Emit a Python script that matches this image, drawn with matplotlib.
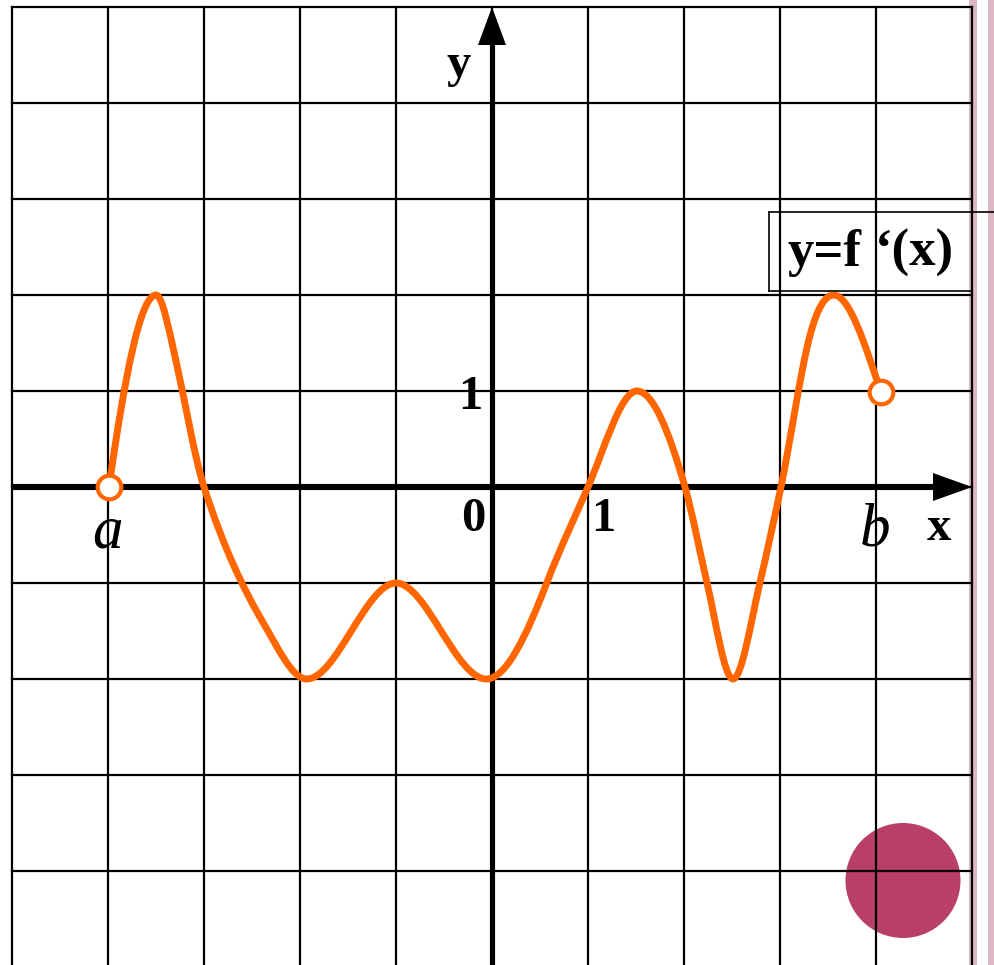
import matplotlib
matplotlib.use("Agg")
import matplotlib.pyplot as plt
from matplotlib.path import Path
from matplotlib.patches import PathPatch, Polygon, Circle

# ---- data ----
knot_x = [-3.99, -3.5, -3.3, -3.0, -2.38, -1.93, -1.0, -0.06, 0.57, 1.0, 1.51,
          2.01, 2.24, 2.51, 2.79, 3.01, 3.31, 3.56, 4.05]
knot_y = [0.0, 2.0, 1.35, 0.0, -1.42, -2.0, -1.0, -2.0, -1.0, 0.0, 1.0,
          0.0, -1.0, -2.0, -1.0, 0.0, 1.57, 2.0, 0.99]
knot_slope = [7.0, 0.0, -4.4, -3.1, -1.7, 0.0, 0.0, 0.0, 2.6, 2.3, 0.0,
              -3.5, -4.3, 0.0, 4.3, 4.8, 3.8, 0.0, -3.0]
endpoints_x = [-3.99, 4.05]
endpoints_y = [0.0, 0.99]
grid_x = [-5, -4, -3, -2, -1, 0, 1, 2, 3, 4, 5]
grid_y = [-4, -3, -2, -1, 0, 1, 2, 3, 4, 5]
label_a, label_b = "a", "b"
func_label_left, func_label_right = "y=f", "\u2018(x)"

ORANGE = "#FF6600"
W, H = 994, 965
UNIT = 96.0
OX, OY = 492.0, 487.0

def X(px):
    return (px - OX) / UNIT

def Y(py):
    return (OY - py) / UNIT

fig = plt.figure(figsize=(W / 100, H / 100), dpi=100)
ax = fig.add_axes([0, 0, 1, 1])
ax.set_xlim(X(0), X(W))
ax.set_ylim(Y(H), Y(0))
ax.axis("off")

# pink strip on the right
ax.axvspan(X(969), X(977), color="#DDB8C4", zorder=0, lw=0)
ax.axvspan(X(988), X(W + 2), color="#DDB8C4", zorder=0, lw=0)

# decorative circle
ax.add_patch(Circle((X(903), Y(880.5)), 57.5 / UNIT, color="#B93E69", zorder=1, lw=0))

# grid
for gx in grid_x:
    ax.plot([gx, gx], [Y(H + 5), grid_y[-1]], color="black", lw=1.6, zorder=2,
            solid_capstyle="projecting")
for gy in grid_y:
    ax.plot([grid_x[0], grid_x[-1]], [gy, gy], color="black", lw=1.6, zorder=2,
            solid_capstyle="projecting")

# axes with arrowheads
ax.plot([grid_x[0], X(935)], [0, 0], color="black", lw=4.4, zorder=3, solid_capstyle="butt")
ax.plot([0, 0], [Y(H + 5), Y(44)], color="black", lw=3.7, zorder=3, solid_capstyle="butt")
ax.add_patch(Polygon([(X(972), 0), (X(933), Y(473)), (X(933), Y(501))],
                     closed=True, color="black", zorder=3, lw=0))
ax.add_patch(Polygon([(0, Y(7)), (X(478), Y(45)), (X(506), Y(45))],
                     closed=True, color="black", zorder=3, lw=0))

# curve as cubic Hermite segments (Bezier)
verts = [(knot_x[0], knot_y[0])]
codes = [Path.MOVETO]
for i in range(len(knot_x) - 1):
    h = knot_x[i + 1] - knot_x[i]
    verts.append((knot_x[i] + h / 3, knot_y[i] + knot_slope[i] * h / 3))
    verts.append((knot_x[i + 1] - h / 3, knot_y[i + 1] - knot_slope[i + 1] * h / 3))
    verts.append((knot_x[i + 1], knot_y[i + 1]))
    codes += [Path.CURVE4] * 3
ax.add_patch(PathPatch(Path(verts, codes), fill=False, edgecolor=ORANGE, lw=5.0,
                       capstyle="round", joinstyle="round", zorder=4))
ax.plot(endpoints_x, endpoints_y, "o", ms=17, mfc="white", mec=ORANGE, mew=3.0,
        zorder=5, ls="none")

serif = ["Liberation Serif", "DejaVu Serif"]
bold = dict(family=serif, fontweight="bold", fontsize=35, color="black", zorder=6)
ax.text(X(459), Y(77), "y", ha="center", va="baseline", **bold)
ax.text(X(939), Y(540), "x", ha="center", va="baseline", **bold)
ax.text(X(470), Y(409), "1", ha="center", va="baseline", **bold)
ax.text(X(473), Y(531), "0", ha="center", va="baseline", **bold)
ax.text(X(603), Y(531), "1", ha="center", va="baseline", **bold)

ital = dict(family=serif, fontstyle="italic", fontsize=44, color="black", zorder=6)
ax.text(X(107.5), Y(547), label_a, ha="center", va="baseline", **ital)
ax.text(X(875), Y(546), label_b, ha="center", va="baseline", **ital)

# function label box (runs off the right edge)
box_kw = dict(color="black", lw=1.2, zorder=6, solid_capstyle="projecting")
ax.plot([X(769), X(769)], [Y(212), Y(291)], **box_kw)
ax.plot([X(769), X(W + 5)], [Y(212), Y(212)], **box_kw)
ax.plot([X(769), X(972)], [Y(291), Y(291)], **box_kw)
ax.text(X(787), Y(266), func_label_left, ha="left", va="baseline",
        family=serif, fontweight="bold", fontsize=38, color="black", zorder=6)
ax.text(X(954), Y(266), func_label_right, ha="right", va="baseline",
        family=serif, fontweight="bold", fontsize=38, color="black", zorder=6)

fig.savefig("out.png", dpi=100)
